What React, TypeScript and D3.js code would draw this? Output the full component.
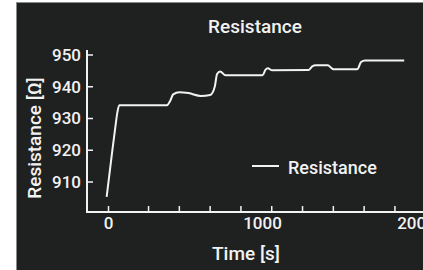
import React, { useEffect, useRef } from "react";
import * as d3 from "d3";

// time [s] and resistance [Ω]
const TIME = [
  -12, 20, 45, 58, 70, 380, 400, 420, 460, 520, 600, 660, 690, 705, 725, 760,
  1000, 1020, 1035, 1060, 1300, 1325, 1345, 1425, 1445, 1460, 1615, 1640, 1665, 1920,
];
const RES = [
  905.3, 918, 927.5, 932, 934.2, 934.2, 935.5, 937.6, 938.3, 938, 937.1, 937.4, 940, 944, 944.8, 943.6,
  943.6, 945.4, 945.8, 945.2, 945.3, 946.5, 946.8, 946.8, 946, 945.5, 945.5, 947.8, 948.3, 948.3,
];

const Y_TICKS = [910, 920, 930, 940, 950];
const X_LABELS = [0, 1000, 2000];
const X_TICKS = [0, 260, 460, 660, 860, 1060, 1260, 1460, 1660, 1860];

const BG = "#1f2020";
const FG = "#f2f2f2";
const FONT = "Roboto, 'Noto Sans', sans-serif";
const WEIGHT = 500;

function draw(svgEl: SVGSVGElement) {
  const svg = d3.select(svgEl);
  svg.selectAll("*").remove();

  const W = 423, H = 270;
  svg.attr("width", W).attr("height", H);

  svg.append("rect").attr("width", W).attr("height", H).attr("fill", "#ffffff");
  svg.append("rect").attr("x", 16).attr("y", 2).attr("width", W - 16).attr("height", H - 2).attr("fill", "#8a8a8a");
  svg.append("rect").attr("x", 17).attr("y", 3).attr("width", W - 17).attr("height", H - 3).attr("fill", BG);

  const x = d3.scaleLinear().domain([0, 1000]).range([108.5, 262.5]);
  const y = d3.scaleLinear().domain([910, 950]).range([182, 55]);

  const axisX0 = 87, axisY0 = 212;

  // axes lines
  svg.append("line")
    .attr("x1", axisX0).attr("x2", axisX0).attr("y1", 50).attr("y2", axisY0 + 1)
    .attr("stroke", FG).attr("stroke-width", 2);
  svg.append("line")
    .attr("x1", axisX0 - 1).attr("x2", W).attr("y1", axisY0).attr("y2", axisY0)
    .attr("stroke", FG).attr("stroke-width", 2);

  // y ticks
  svg.append("g").selectAll("line").data(Y_TICKS).join("line")
    .attr("x1", axisX0).attr("x2", axisX0 + 6)
    .attr("y1", d => y(d)).attr("y2", d => y(d))
    .attr("stroke", FG).attr("stroke-width", 1.5);
  svg.append("g").selectAll("text").data(Y_TICKS).join("text")
    .attr("x", 81).attr("y", d => y(d)).attr("dy", "0.35em")
    .attr("text-anchor", "end").attr("font-family", FONT).attr("font-size", 17)
    .attr("font-weight", WEIGHT).attr("fill", FG).text(d => d);

  // x ticks
  svg.append("g").selectAll("line").data(X_TICKS).join("line")
    .attr("x1", d => x(d)).attr("x2", d => x(d))
    .attr("y1", axisY0).attr("y2", axisY0 - 6)
    .attr("stroke", FG).attr("stroke-width", 1.5);
  svg.append("g").selectAll("text").data(X_LABELS).join("text")
    .attr("x", d => x(d)).attr("y", 229)
    .attr("text-anchor", "middle").attr("font-family", FONT).attr("font-size", 17)
    .attr("font-weight", WEIGHT).attr("fill", FG).text(d => d);

  // titles
  svg.append("text")
    .attr("x", 255).attr("y", 33).attr("text-anchor", "middle")
    .attr("font-family", FONT).attr("font-size", 19).attr("font-weight", WEIGHT).attr("fill", FG)
    .text("Resistance");
  svg.append("text")
    .attr("x", 246).attr("y", 260).attr("text-anchor", "middle")
    .attr("font-family", FONT).attr("font-size", 19).attr("font-weight", WEIGHT).attr("fill", FG)
    .text("Time [s]");
  svg.append("text")
    .attr("transform", "translate(41,138) rotate(-90)")
    .attr("text-anchor", "middle")
    .attr("font-family", FONT).attr("font-size", 19).attr("font-weight", WEIGHT).attr("fill", FG)
    .text("Resistance [Ω]");

  // curve
  const pts = TIME.map((t, i) => [t, RES[i]] as [number, number]);
  const line = d3.line<[number, number]>()
    .x(d => x(d[0])).y(d => y(d[1]))
    .curve(d3.curveMonotoneX);
  svg.append("path")
    .attr("d", line(pts))
    .attr("fill", "none").attr("stroke", FG).attr("stroke-width", 2);

  // legend
  svg.append("line")
    .attr("x1", 252).attr("x2", 279).attr("y1", 166).attr("y2", 166)
    .attr("stroke", FG).attr("stroke-width", 2);
  svg.append("text")
    .attr("x", 288).attr("y", 174)
    .attr("font-family", FONT).attr("font-size", 18).attr("font-weight", WEIGHT).attr("fill", FG)
    .text("Resistance");
}

export default function App() {
  const ref = useRef<SVGSVGElement>(null);
  useEffect(() => {
    if (ref.current) draw(ref.current);
  }, []);
  return (
    <div style={{ position: "fixed", left: 0, top: 0, width: 423, height: 270, overflow: "hidden" }}>
      <svg ref={ref} style={{ display: "block" }} />
    </div>
  );
}
